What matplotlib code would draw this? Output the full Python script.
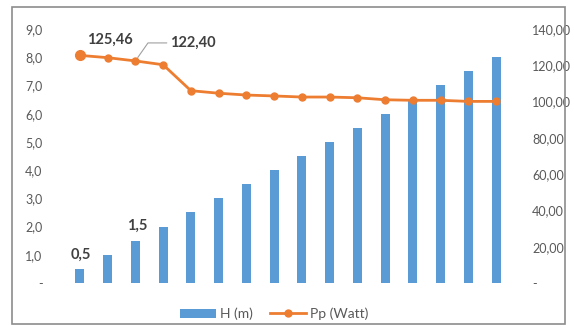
import matplotlib.pyplot as plt
from matplotlib.patches import Rectangle

# head (m) and power (W) for each step
heads = [0.5, 1.0, 1.5, 2.0, 2.5, 3.0, 3.5, 4.0, 4.5, 5.0, 5.5, 6.0, 6.5, 7.0, 7.5, 8.0]
power = [125.46, 124.2, 122.40, 120.3, 106.0, 104.6, 103.6, 103.1,
         102.5, 102.5, 102.1, 101.0, 100.7, 100.7, 100.1, 100.1]

left_ticks = [0, 1, 2, 3, 4, 5, 6, 7, 8, 9]
right_ticks = [0, 20, 40, 60, 80, 100, 120, 140]

blue = "#5B9BD5"
orange = "#ED7D31"
gray = "#595959"

plt.rcParams['font.family'] = ['Lato', 'DejaVu Sans']

fig = plt.figure(figsize=(5.74, 3.27), dpi=100)
ax = fig.add_axes([66/574, 44/327, 444/574, 254/327])
ax2 = ax.twinx()

x = list(range(len(heads)))

ax.bar(x, heads, width=0.32, color=blue, label="H (m)", zorder=2)
ax.set_xlim(-0.5, len(heads) - 0.5)
ax.set_ylim(0, 9)
ax.set_xticks([])
ax.set_yticks(left_ticks)
ax.set_yticklabels(["-" if t == 0 else f"{t:.1f}".replace(".", ",") for t in left_ticks])

ax2.plot(x, power, color=orange, lw=2, marker="o", ms=5, label="Pp (Watt)", zorder=3)
ax2.plot(x[0], power[0], color=orange, marker="o", ms=7, zorder=4)
ax2.set_ylim(0, 140)
ax2.set_yticks(right_ticks)
ax2.set_yticklabels(["-" if t == 0 else f"{t:.2f}".replace(".", ",") for t in right_ticks])

for a in (ax, ax2):
    for s in a.spines.values():
        s.set_visible(False)
    a.tick_params(length=0, labelsize=9, labelcolor=gray)
ax.tick_params(axis="y", pad=17)
ax2.tick_params(axis="y", pad=16)

# data labels
lab = dict(fontsize=10.5, fontweight="bold", color="#404040", textcoords="offset pixels")
ax.annotate("0,5", (x[0], heads[0]), xytext=(1, 14), ha="center", va="center", **lab)
ax.annotate("1,5", (x[2], heads[2]), xytext=(2, 15), ha="center", va="center", **lab)
ax2.annotate("125,46", (x[0], power[0]), xytext=(30, 16), ha="center", va="center", **lab)
ax2.annotate("122,40", (x[2], power[2]), xytext=(57, 18), ha="center", va="center",
             arrowprops=dict(arrowstyle="-", color="#a0a0a0", lw=0.8,
                             connectionstyle="angle,angleA=0,angleB=55,rad=0",
                             shrinkA=30, shrinkB=3), **lab)

h1, l1 = ax.get_legend_handles_labels()
h2, l2 = ax2.get_legend_handles_labels()
fig.legend(h1 + h2, l1 + l2, loc="center", bbox_to_anchor=(274/574, 13/327), ncol=2,
           frameon=False, fontsize=10, labelcolor=gray, handlelength=2.6,
           handletextpad=0.3, columnspacing=1.2)

# chart border
fig.patches.append(Rectangle((12/574, 3/327), 553/574, 317/327, transform=fig.transFigure,
                             fill=False, edgecolor="#8c8c8c", lw=1.2))

fig.savefig("out.png", dpi=100)
